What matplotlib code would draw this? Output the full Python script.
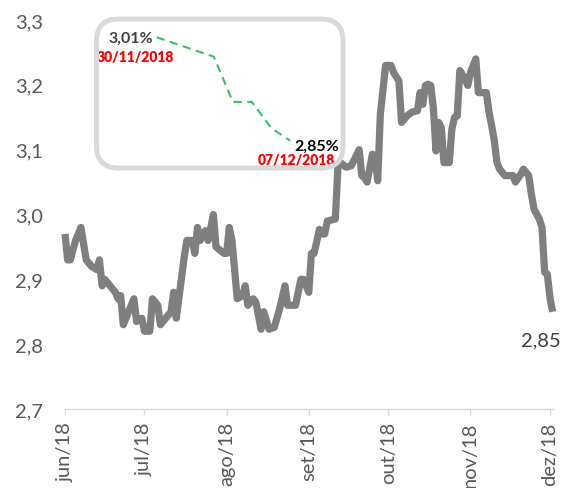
import matplotlib
matplotlib.use("Agg")
import matplotlib.pyplot as plt
from matplotlib.patches import FancyBboxPatch
from matplotlib.ticker import FuncFormatter
import pandas as pd

plt.rcParams["font.family"] = ["Lato", "DejaVu Sans"]

# taxa diaria (serie principal)
datas = [
    "2018-06-01", "2018-06-02", "2018-06-03", "2018-06-05", "2018-06-07", "2018-06-09",
    "2018-06-11", "2018-06-13", "2018-06-14", "2018-06-15", "2018-06-16", "2018-06-18",
    "2018-06-20", "2018-06-21", "2018-06-22", "2018-06-23", "2018-06-24", "2018-06-27",
    "2018-06-28", "2018-06-30", "2018-07-01", "2018-07-03", "2018-07-04", "2018-07-06",
    "2018-07-07", "2018-07-11", "2018-07-12", "2018-07-13", "2018-07-16", "2018-07-17",
    "2018-07-19", "2018-07-20", "2018-07-21", "2018-07-22", "2018-07-24", "2018-07-25",
    "2018-07-27", "2018-07-28", "2018-07-31", "2018-08-01", "2018-08-02", "2018-08-03",
    "2018-08-05", "2018-08-07", "2018-08-08", "2018-08-09", "2018-08-11", "2018-08-12",
    "2018-08-14", "2018-08-15", "2018-08-17", "2018-08-19", "2018-08-21", "2018-08-23",
    "2018-08-24", "2018-08-27", "2018-08-29", "2018-08-30", "2018-09-01", "2018-09-02",
    "2018-09-03", "2018-09-05", "2018-09-06", "2018-09-07", "2018-09-08", "2018-09-11",
    "2018-09-12", "2018-09-13", "2018-09-15", "2018-09-17", "2018-09-20", "2018-09-21",
    "2018-09-22", "2018-09-23", "2018-09-25", "2018-09-26", "2018-09-27", "2018-09-28",
    "2018-09-30", "2018-10-02", "2018-10-03", "2018-10-05", "2018-10-06", "2018-10-08",
    "2018-10-10", "2018-10-12", "2018-10-13", "2018-10-14", "2018-10-15", "2018-10-16",
    "2018-10-17", "2018-10-18", "2018-10-19", "2018-10-20", "2018-10-21", "2018-10-22",
    "2018-10-24", "2018-10-25", "2018-10-26", "2018-10-27", "2018-10-28", "2018-10-30",
    "2018-10-31", "2018-11-01", "2018-11-03", "2018-11-04", "2018-11-07", "2018-11-08",
    "2018-11-09", "2018-11-10", "2018-11-11", "2018-11-12", "2018-11-14", "2018-11-17",
    "2018-11-18", "2018-11-20", "2018-11-21", "2018-11-23", "2018-11-24", "2018-11-25",
    "2018-11-27", "2018-11-28", "2018-11-29", "2018-11-30", "2018-12-01", "2018-12-02",
]
taxa = [
    2.97, 2.93, 2.93, 2.96, 2.98, 2.93,
    2.92, 2.915, 2.93, 2.89, 2.90, 2.89,
    2.88, 2.87, 2.875, 2.83, 2.84, 2.87,
    2.835, 2.84, 2.82, 2.82, 2.87, 2.86,
    2.83, 2.85, 2.88, 2.84, 2.935, 2.96,
    2.96, 2.94, 2.98, 2.96, 2.975, 2.96,
    3.00, 2.95, 2.94, 2.94, 2.98, 2.96,
    2.87, 2.875, 2.89, 2.86, 2.87, 2.865,
    2.823, 2.85, 2.823, 2.826, 2.855, 2.89,
    2.86, 2.86, 2.90, 2.90, 2.88, 2.94,
    2.94, 2.977, 2.97, 2.97, 2.99, 2.993,
    3.073, 3.08, 3.073, 3.075, 3.10, 3.06,
    3.057, 3.05, 3.093, 3.088, 3.052, 3.155,
    3.23, 3.23, 3.219, 3.206, 3.142, 3.152,
    3.158, 3.16, 3.188, 3.17, 3.199, 3.201,
    3.199, 3.165, 3.098, 3.142, 3.134, 3.08,
    3.08, 3.132, 3.15, 3.152, 3.222, 3.209,
    3.199, 3.219, 3.24, 3.188, 3.188, 3.158,
    3.137, 3.114, 3.08, 3.07, 3.06, 3.06,
    3.05, 3.062, 3.07, 3.06, 3.031, 3.008,
    2.993, 2.98, 2.911, 2.908, 2.872, 2.85,
]

meses = ["2018-06-01", "2018-07-01", "2018-08-01", "2018-09-01",
         "2018-10-01", "2018-11-01", "2018-12-01"]
meses_rotulos = ["jun/18", "jul/18", "ago/18", "set/18", "out/18", "nov/18", "dez/18"]

# detalhe da ultima semana
datas_semana = ["2018-11-30", "2018-12-03", "2018-12-04", "2018-12-05", "2018-12-06", "2018-12-07"]
taxa_semana = [3.01, 2.98, 2.91, 2.91, 2.87, 2.85]

datas = pd.to_datetime(datas)
meses = pd.to_datetime(meses)
datas_semana = pd.to_datetime(datas_semana)

CINZA = "#7f7f7f"
TEXTO = "#595959"
VERMELHO = "#ff0000"
VERDE = "#3dbf6a"

W, H = 565, 489
fig = plt.figure(figsize=(W / 100, H / 100), dpi=100)

ax = fig.add_axes([65 / W, 79 / H, (552.6 - 65) / W, (410 - 21) / H])
ax.plot(datas, taxa, color=CINZA, lw=5.2, solid_joinstyle="round",
        solid_capstyle="butt", clip_on=False)
ax.set_xlim(pd.Timestamp("2018-06-01"), pd.Timestamp("2018-12-02"))
ax.set_ylim(2.7, 3.3)
ax.set_yticks([2.7, 2.8, 2.9, 3.0, 3.1, 3.2, 3.3])
ax.yaxis.set_major_formatter(FuncFormatter(lambda v, _: f"{v:.1f}".replace(".", ",")))
ax.set_xticks(meses)
ax.set_xticklabels(meses_rotulos, rotation=90, va="top", ha="center")

for side in ["top", "right", "left"]:
    ax.spines[side].set_visible(False)
ax.spines["bottom"].set_color("#d9d9d9")
ax.spines["bottom"].set_linewidth(1)
ax.tick_params(axis="y", length=0, pad=16, labelsize=14.5, labelcolor=TEXTO)
ax.tick_params(axis="x", length=4.3, width=1, color="#d9d9d9", pad=4.5,
               labelsize=14.5, labelcolor=TEXTO)

ax.annotate(f"{taxa[-1]:.2f}".replace(".", ","), (datas[-1], taxa[-1]),
            xytext=(-8.6, -20.5), textcoords="offset points",
            ha="center", va="center", fontsize=14.5, color="#404040")

# caixa arredondada com o detalhe
caixa = FancyBboxPatch((0.965, 3.20), 3.43 - 0.965, 4.69 - 3.20,
                       boxstyle="round,pad=0,rounding_size=0.22",
                       transform=fig.dpi_scale_trans, fill=False,
                       edgecolor="#d9d9d9", lw=3.6)
fig.patches.append(caixa)

ins = fig.add_axes([156.7 / W, (H - 141.7) / H, 133.3 / W, 103.4 / H])
ins.plot(datas_semana, taxa_semana, color=VERDE, lw=1.5, ls=(0, (4, 2.6)), clip_on=False)
ins.set_xlim(datas_semana[0], datas_semana[-1])
ins.set_ylim(taxa_semana[-1], taxa_semana[0])
ins.axis("off")

ini = (datas_semana[0], taxa_semana[0])
fim = (datas_semana[-1], taxa_semana[-1])
ins.annotate(f"{taxa_semana[0]:.2f}%".replace(".", ","), ini, xytext=(-2.8, 0),
             textcoords="offset points", ha="right", va="center",
             fontsize=11.5, fontweight="bold", color="#404040")
ins.annotate(datas_semana[0].strftime("%d/%m/%Y"), ini, xytext=(-15.2, -13.7),
             textcoords="offset points", ha="center", va="center",
             fontsize=10, fontweight="heavy", color=VERMELHO)
ins.annotate(f"{taxa_semana[-1]:.2f}%".replace(".", ","), fim, xytext=(2.9, -3.5),
             textcoords="offset points", ha="left", va="center",
             fontsize=11.5, fontweight="bold", color="black")
ins.annotate(datas_semana[-1].strftime("%d/%m/%Y"), fim, xytext=(4.3, -13.7),
             textcoords="offset points", ha="center", va="center",
             fontsize=10, fontweight="heavy", color=VERMELHO)

fig.savefig("out.png", dpi=100)
